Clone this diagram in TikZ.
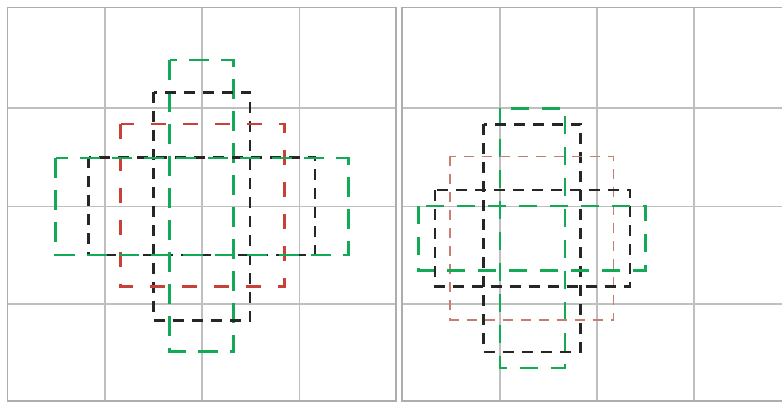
\documentclass[tikz,border=0pt]{standalone}
\begin{document}
\begin{tikzpicture}[x=1pt,y=-1pt,
  gridline/.style={draw=black!25,line width=1.2pt},
  frame/.style={draw=black!32,line width=1.8pt},
  grn/.style={draw={rgb,255:red,20;green,170;blue,85},line width=2.8pt,dash pattern=on 20pt off 12pt},
  grnR/.style={draw={rgb,255:red,20;green,170;blue,85},line width=2.7pt,dash pattern=on 18pt off 13pt},
  blk/.style={draw=black!85,line width=2.2pt,dash pattern=on 11pt off 8pt},
  redL/.style={draw={rgb,255:red,200;green,65;blue,55},line width=2.2pt,dash pattern=on 15pt off 17pt},
  redR/.style={draw={rgb,255:red,200;green,125;blue,115},line width=1.6pt,dash pattern=on 10pt off 8pt}]
\useasboundingbox (0,0) rectangle (782,403);
\fill[white] (0,0) rectangle (782,403);
% left panel grid
\begin{scope}
\clip (7.5,7.5) rectangle (396,401);
\foreach \x in {105,202,299.5} \draw[gridline] (\x,7.5) -- (\x,401);
\foreach \y in {108,206.5,304} \draw[gridline] (7.5,\y) -- (396,\y);
\end{scope}
\draw[frame] (7.5,7.5) rectangle (396,401);
% right panel grid
\foreach \x in {500,597,694} \draw[gridline] (\x,7.5) -- (\x,401);
\foreach \y in {108,206.5,304} \draw[gridline] (402,\y) -- (782,\y);
\draw[frame] (782,7.5) -- (402,7.5) -- (402,401) -- (782,401);
% left shapes
\draw[grn] (169.5,60) rectangle (233.5,351.5);
\draw[blk] (153.5,92.5) rectangle (250,320.5);
\draw[redL] (120.5,124) rectangle (284.5,286.5);
\draw[blk] (88.5,157.5) rectangle (315,255);
\draw[grn] (55.5,158) rectangle (348.5,255);
% right shapes
\draw[grnR] (500,108.5) rectangle (565,368);
\draw[blk] (483.5,124.5) rectangle (580.5,352);
\draw[redR] (450,156.5) rectangle (613.5,320);
\draw[blk] (435,190) rectangle (630,286.5);
\draw[grnR] (418.5,206) rectangle (645.5,270.5);
\end{tikzpicture}
\end{document}
